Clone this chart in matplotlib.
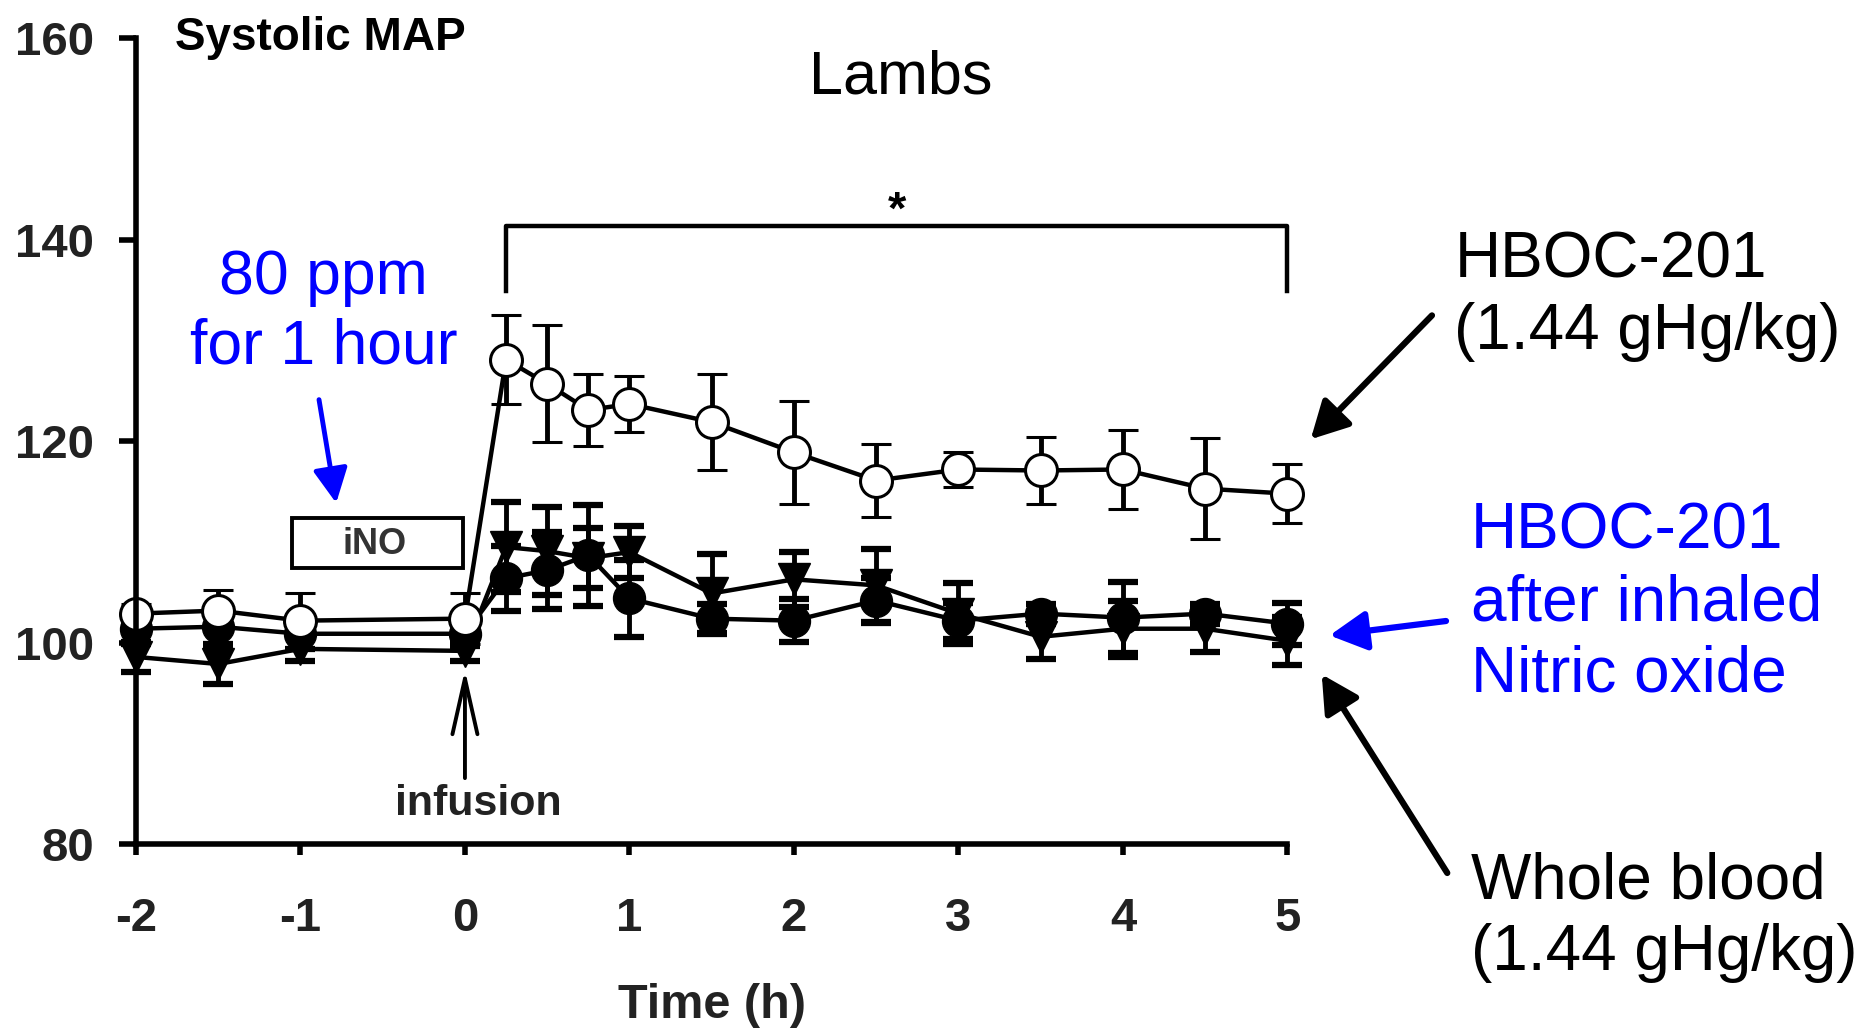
import numpy as np
import matplotlib
matplotlib.use("Agg")
import matplotlib.pyplot as plt
from matplotlib.patches import Rectangle

plt.rcParams['font.family'] = ['Liberation Sans', 'DejaVu Sans']
plt.rcParams['axes.unicode_minus'] = False

# time points (h) and systolic MAP (mmHg), mean and error
time = [-2, -1.5, -1, 0, 0.25, 0.5, 0.75, 1, 1.5, 2, 2.5, 3, 3.5, 4, 4.5, 5]
hboc = [102.9, 103.2, 102.2, 102.4, 128.1, 125.7, 123.1, 123.7, 121.9, 118.9,
        116.1, 117.2, 117.1, 117.2, 115.3, 114.8]
hboc_err = [1.0, 2.0, 2.7, 2.5, 4.4, 5.8, 3.6, 2.8, 4.8, 5.1, 3.6, 1.7, 3.3, 3.9, 5.0, 2.9]
hboc_ino = [101.4, 101.6, 100.9, 100.9, 106.4, 107.2, 108.7, 104.4, 102.4, 102.2,
            104.2, 102.2, 102.9, 102.5, 102.9, 101.9]
hboc_ino_err = [1.5, 1.8, 1.5, 1.2, 3.2, 3.8, 5.0, 3.8, 1.5, 2.1, 2.2, 1.8, 1.0, 3.5, 1.0, 2.1]
whole_blood = [98.6, 97.9, 99.4, 99.2, 109.5, 109.1, 108.4, 109.0, 104.9, 106.3,
               105.7, 102.9, 100.6, 101.4, 101.4, 100.2]
whole_blood_err = [1.5, 2.0, 1.2, 1.0, 4.5, 4.4, 3.0, 2.6, 3.9, 2.7, 3.6, 3.0, 2.2, 2.8, 2.3, 2.4]

xticks = [-2, -1, 0, 1, 2, 3, 4, 5]
yticks = [80, 100, 120, 140, 160]

fig = plt.figure(figsize=(18.55, 10.31), dpi=100)
ax = fig.add_axes([0.0733, 0.181, 0.6207, 0.782])

common = dict(color='black', lw=3.2, elinewidth=3.5, capsize=11, capthick=4.5,
              markersize=23, clip_on=False)
ax.errorbar(time, whole_blood, yerr=whole_blood_err, fmt='-v', mfc='black',
            mec='black', **common)
ax.errorbar(time, hboc_ino, yerr=hboc_ino_err, fmt='-o', mfc='black',
            mec='black', **common)
ax.errorbar(time, hboc, yerr=hboc_err, fmt='-o', mfc='white', mec='black',
            mew=2.2, **common)

ax.set_xlim(-2, 5)
ax.set_ylim(80, 160)
ax.set_xticks(xticks)
ax.set_yticks(yticks)
for s in ['top', 'right']:
    ax.spines[s].set_visible(False)
for s in ['left', 'bottom']:
    ax.spines[s].set_linewidth(4)
ax.tick_params(axis='y', length=12, width=4, pad=18, labelsize=34, labelcolor='#222')
ax.tick_params(axis='x', length=8, width=4, pad=30, labelsize=34, labelcolor='#222')
for lab in ax.get_xticklabels() + ax.get_yticklabels():
    lab.set_fontweight('bold')
ax.set_xlabel('Time (h)', fontsize=35, fontweight='bold', color='#222', labelpad=30)

# titles
fig.text(175 / 1855, 1 - 38 / 1031, 'Systolic MAP', fontsize=33, fontweight='bold',
         va='center', ha='left')
ax.text(2.65, 156.0, 'Lambs', fontsize=44, ha='center', va='center')

# significance bracket
ax.plot([0.25, 0.25, 5, 5], [134.9, 141.4, 141.4, 134.9], color='black', lw=3.2,
        clip_on=False)
ax.text(2.63, 142.8, '*', fontsize=34, ha='center', va='center', fontweight='bold')

# iNO box and note
ax.add_patch(Rectangle((-1.05, 107.4), 1.04, 5.0, fill=False, lw=2.8, ec='black'))
ax.text(-0.55, 109.8, 'iNO', fontsize=26, fontweight='bold', color='#333',
        ha='center', va='center')
ax.text(-0.86, 132.8, '80 ppm\nfor 1 hour', color='#0000ff', fontsize=45,
        ha='center', va='center', linespacing=1.22)
ax.annotate('', xy=(-0.78, 113.6), xytext=(-0.89, 124.4),
            arrowprops=dict(arrowstyle='-|>,head_length=0.7,head_width=0.35',
                            color='#0000ff', lw=3.5, mutation_scale=30))

# infusion marker
ax.annotate('', xy=(0, 97.6), xytext=(0, 86.3),
            arrowprops=dict(arrowstyle='->,head_length=2.0,head_width=0.45',
                            color='black', lw=2.8, mutation_scale=20))
ax.text(0.08, 84.0, 'infusion', fontsize=31, fontweight='bold', color='#222',
        ha='center', va='center')

# right-hand labels
fig.text(0.784, 0.713, 'HBOC-201\n(1.44 gHg/kg)', fontsize=46, ha='left',
         va='center', linespacing=1.25)
fig.text(0.793, 0.415, 'HBOC-201\nafter inhaled\nNitric oxide', fontsize=46,
         color='#0000ff', ha='left', va='center', linespacing=1.25)
fig.text(0.793, 0.110, 'Whole blood\n(1.44 gHg/kg)', fontsize=46, ha='left',
         va='center', linespacing=1.25)

arrow = dict(arrowstyle='-|>,head_length=0.75,head_width=0.4', lw=4.5,
             mutation_scale=30)
ax.annotate('', xy=(5.13, 120.0), xytext=(0.773, 0.696), textcoords='figure fraction',
            annotation_clip=False, arrowprops=dict(color='black', **arrow))
ax.annotate('', xy=(5.24, 100.7), xytext=(0.781, 0.398), textcoords='figure fraction',
            annotation_clip=False, arrowprops=dict(color='#0000ff', **arrow))
ax.annotate('', xy=(5.20, 97.1), xytext=(0.781, 0.151), textcoords='figure fraction',
            annotation_clip=False, arrowprops=dict(color='black', **arrow))

fig.savefig('out.png', dpi=100, facecolor='white')
